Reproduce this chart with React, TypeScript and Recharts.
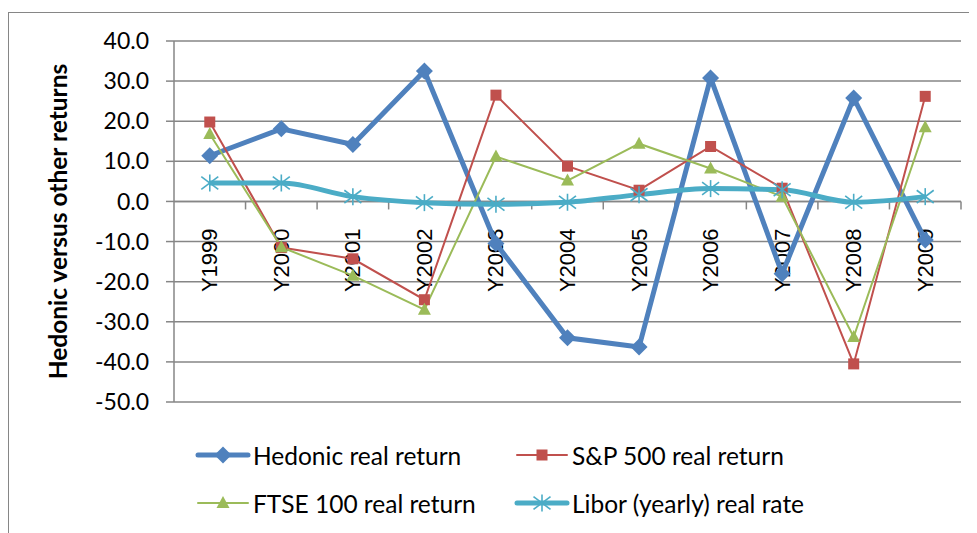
import { ComposedChart, Line, XAxis, YAxis, CartesianGrid, ReferenceLine, Legend } from "recharts";

const years = ["Y1999", "Y2000", "Y2001", "Y2002", "Y2003", "Y2004", "Y2005", "Y2006", "Y2007", "Y2008", "Y2009"];
const hedonic = [11.4, 18.1, 14.2, 32.5, -10.5, -34.0, -36.3, 30.8, -18.0, 25.8, -9.6];
const sp500 = [19.8, -11.5, -14.3, -24.5, 26.5, 8.8, 2.8, 13.7, 3.3, -40.5, 26.2];
const ftse = [16.8, -11.4, -18.5, -27.0, 11.2, 5.2, 14.4, 8.2, 1.2, -33.8, 18.5];
const libor = [4.6, 4.6, 1.2, -0.3, -0.7, -0.2, 1.7, 3.2, 2.9, -0.2, 1.2];
const yTicks = [-50, -40, -30, -20, -10, 0, 10, 20, 30, 40];

const data = years.map((year, i) => ({
  year,
  hedonic: hedonic[i],
  sp500: sp500[i],
  ftse: ftse[i],
  libor: libor[i],
}));

const BLUE = "#4F81BD";
const RED = "#C0504D";
const GREEN = "#9BBB59";
const CYAN = "#4BACC6";
const GRID = "#868686";
const FONT = "Lato, 'Open Sans', sans-serif";

function Diamond({ cx, cy }: any) {
  if (cx == null || cy == null) return null;
  return <polygon points={`${cx},${cy - 8.5} ${cx + 8.5},${cy} ${cx},${cy + 8.5} ${cx - 8.5},${cy}`} fill={BLUE} />;
}

function Square({ cx, cy }: any) {
  if (cx == null || cy == null) return null;
  return <rect x={cx - 5.5} y={cy - 5.5} width={11} height={11} fill={RED} />;
}

function Triangle({ cx, cy }: any) {
  if (cx == null || cy == null) return null;
  return <polygon points={`${cx},${cy - 7} ${cx + 6.5},${cy + 5} ${cx - 6.5},${cy + 5}`} fill={GREEN} />;
}

function Star({ cx, cy }: any) {
  if (cx == null || cy == null) return null;
  const r = 8.5;
  return (
    <g stroke={CYAN} strokeWidth={1.6}>
      <line x1={cx - r} y1={cy - r * 0.75} x2={cx + r} y2={cy + r * 0.75} />
      <line x1={cx - r} y1={cy + r * 0.75} x2={cx + r} y2={cy - r * 0.75} />
      <line x1={cx} y1={cy - r} x2={cx} y2={cy + r} />
    </g>
  );
}

// category labels and tick marks along the zero line
function CategoryAxis(props: any) {
  const { x, y, width } = props.viewBox;
  const step = width / years.length;
  return (
    <g>
      {years.map((_, i) => (
        <line key={`t${i}`} x1={x + (i + 1) * step} y1={y} x2={x + (i + 1) * step} y2={y + 8} stroke={GRID} strokeWidth={1.5} />
      ))}
      {years.map((label, i) => {
        const cx = x + (i + 0.5) * step;
        const ty = y + 27;
        return (
          <text
            key={label}
            x={cx}
            y={ty}
            transform={`rotate(-90 ${cx} ${ty})`}
            textAnchor="end"
            dominantBaseline="central"
            fontFamily="'Liberation Sans', Arial, sans-serif"
            fontSize={22}
            fill="#000"
          >
            {label}
          </text>
        );
      })}
    </g>
  );
}

function LegendIcon({ color, width, Marker }: any) {
  return (
    <svg width={56} height={22} style={{ display: "block" }}>
      <line x1={3} y1={11} x2={53} y2={11} stroke={color} strokeWidth={width} strokeLinecap="round" />
      <Marker cx={28} cy={11} />
    </svg>
  );
}

const legendItems = [
  { label: "Hedonic real return", color: BLUE, width: 5, Marker: Diamond, left: 186, top: 42 },
  { label: "S&P 500 real return", color: RED, width: 2, Marker: Square, left: 505, top: 42 },
  { label: "FTSE 100 real return", color: GREEN, width: 2, Marker: Triangle, left: 186, top: 90 },
  { label: "Libor (yearly) real rate", color: CYAN, width: 5, Marker: Star, left: 505, top: 90 },
];

function ChartLegend() {
  return (
    <div style={{ position: "relative", height: 131, width: 968 }}>
      {legendItems.map((it) => (
        <div
          key={it.label}
          style={{ position: "absolute", left: it.left, top: it.top, display: "flex", alignItems: "center", height: 22 }}
        >
          <LegendIcon color={it.color} width={it.width} Marker={it.Marker} />
          <span style={{ fontFamily: FONT, fontSize: 24.5, color: "#000", marginLeft: 2, whiteSpace: "nowrap" }}>{it.label}</span>
        </div>
      ))}
    </div>
  );
}

export default function App() {
  return (
    <div
      style={{
        marginTop: 4,
        width: 969,
        height: 521,
        borderTop: `1px solid ${GRID}`,
        borderLeft: `1px solid ${GRID}`,
        background: "#fff",
        boxSizing: "border-box",
        overflow: "hidden",
      }}
    >
      <ComposedChart width={968} height={520} data={data} margin={{ top: 28, right: 16, bottom: 0, left: 0 }}>
        <CartesianGrid vertical={false} stroke={GRID} strokeWidth={1.5} />
        <XAxis dataKey="year" scale="band" hide />
        <YAxis
          domain={[-50, 40]}
          ticks={yTicks}
          interval={0}
          width={165}
          tickSize={8}
          tickMargin={17}
          stroke={GRID}
          strokeWidth={1.5}
          tickFormatter={(v: number) => v.toFixed(1)}
          tick={{ fill: "#000", fontSize: 23, fontFamily: FONT }}
          label={{
            value: "Hedonic versus other returns",
            angle: -90,
            position: "insideLeft",
            offset: 49,
            style: { textAnchor: "middle", fontWeight: 700, fontSize: 24.5, fontFamily: FONT, fill: "#000" },
          }}
        />
        <ReferenceLine y={0} stroke={GRID} strokeWidth={1.5} label={(p: any) => <CategoryAxis {...p} />} />
        <Line
          dataKey="hedonic"
          name="Hedonic real return"
          type="linear"
          stroke={BLUE}
          strokeWidth={5}
          dot={(p: any) => <Diamond key={`d${p.index}`} {...p} />}
          activeDot={false}
          isAnimationActive={false}
        />
        <Line
          dataKey="sp500"
          name="S&P 500 real return"
          type="linear"
          stroke={RED}
          strokeWidth={2}
          dot={(p: any) => <Square key={`s${p.index}`} {...p} />}
          activeDot={false}
          isAnimationActive={false}
        />
        <Line
          dataKey="ftse"
          name="FTSE 100 real return"
          type="linear"
          stroke={GREEN}
          strokeWidth={2}
          dot={(p: any) => <Triangle key={`f${p.index}`} {...p} />}
          activeDot={false}
          isAnimationActive={false}
        />
        <Line
          dataKey="libor"
          name="Libor (yearly) real rate"
          type="monotone"
          stroke={CYAN}
          strokeWidth={5}
          dot={(p: any) => <Star key={`l${p.index}`} {...p} />}
          activeDot={false}
          isAnimationActive={false}
        />
        <Legend verticalAlign="bottom" content={() => <ChartLegend />} wrapperStyle={{ left: 0, width: 968 }} />
      </ComposedChart>
    </div>
  );
}
